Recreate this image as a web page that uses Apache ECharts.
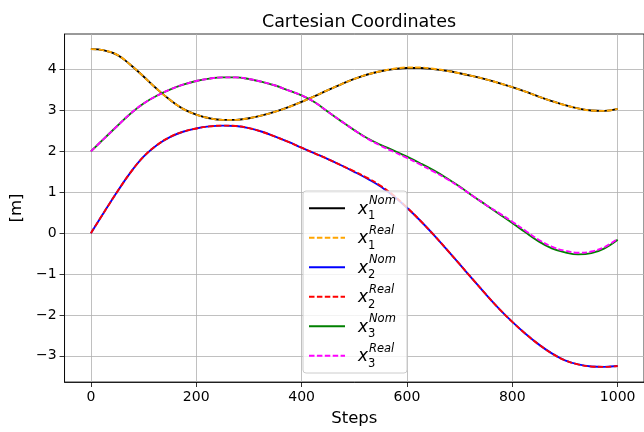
<!DOCTYPE html>
<html>
<head>
<meta charset="utf-8">
<title>Cartesian Coordinates</title>
<script src="https://cdn.jsdelivr.net/npm/echarts@6/dist/echarts.min.js"></script>
<style>
  html, body { margin: 0; padding: 0; background: #ffffff; }
  #chart { width: 644px; height: 432px; }
</style>
</head>
<body>
<div id="chart"></div>
<script>
// Simulation steps at which the trajectories are sampled
const steps = [0, 25, 50, 75, 100, 125, 150, 175, 200, 225, 250, 275, 300, 325, 350, 375, 400,
  425, 450, 475, 500, 525, 550, 575, 600, 625, 650, 675, 700, 725, 750, 775, 800,
  825, 850, 875, 900, 925, 950, 975, 1000];

// Nominal and real position components [m]
const x1Nom = [4.50, 4.47, 4.36, 4.12, 3.83, 3.53, 3.26, 3.04, 2.90, 2.81, 2.77, 2.77, 2.81,
  2.88, 2.97, 3.08, 3.21, 3.35, 3.50, 3.64, 3.77, 3.88, 3.96, 4.01, 4.04, 4.04, 4.01,
  3.97, 3.91, 3.84, 3.76, 3.67, 3.57, 3.46, 3.34, 3.23, 3.13, 3.05, 3.00, 2.99, 3.04];
const x1Real = [4.50, 4.47, 4.36, 4.12, 3.83, 3.53, 3.26, 3.04, 2.90, 2.81, 2.77, 2.77, 2.81,
  2.88, 2.97, 3.08, 3.21, 3.35, 3.50, 3.64, 3.77, 3.88, 3.96, 4.02, 4.05, 4.05, 4.02,
  3.97, 3.91, 3.84, 3.76, 3.67, 3.57, 3.46, 3.34, 3.23, 3.13, 3.05, 3.00, 2.99, 3.04];

const x2Nom = [0.00, 0.51, 1.01, 1.48, 1.87, 2.15, 2.35, 2.48, 2.56, 2.61, 2.63, 2.62, 2.57,
  2.48, 2.36, 2.23, 2.09, 1.95, 1.81, 1.66, 1.50, 1.33, 1.14, 0.90, 0.62, 0.31, -0.03,
  -0.39, -0.76, -1.13, -1.50, -1.85, -2.17, -2.46, -2.72, -2.94, -3.11, -3.21, -3.26, -3.27, -3.25];
const x2Real = [0.00, 0.51, 1.01, 1.48, 1.87, 2.15, 2.35, 2.48, 2.56, 2.61, 2.63, 2.62, 2.57,
  2.48, 2.36, 2.23, 2.09, 1.95, 1.81, 1.66, 1.51, 1.35, 1.16, 0.92, 0.63, 0.31, -0.03,
  -0.39, -0.76, -1.13, -1.50, -1.85, -2.17, -2.46, -2.72, -2.94, -3.11, -3.21, -3.26, -3.27, -3.25];

const x3Nom = [2.00, 2.31, 2.62, 2.92, 3.17, 3.36, 3.51, 3.63, 3.72, 3.78, 3.81, 3.81, 3.77,
  3.70, 3.61, 3.49, 3.37, 3.20, 2.97, 2.74, 2.52, 2.32, 2.16, 2.02, 1.87, 1.71, 1.54,
  1.35, 1.14, 0.91, 0.69, 0.47, 0.25, 0.02, -0.20, -0.37, -0.47, -0.52, -0.49, -0.37, -0.16];
const x3Real = [2.00, 2.31, 2.62, 2.92, 3.17, 3.36, 3.51, 3.63, 3.72, 3.78, 3.81, 3.81, 3.77,
  3.70, 3.61, 3.49, 3.37, 3.20, 2.97, 2.74, 2.52, 2.31, 2.14, 1.99, 1.84, 1.68, 1.51,
  1.33, 1.13, 0.91, 0.69, 0.49, 0.28, 0.06, -0.16, -0.33, -0.43, -0.48, -0.45, -0.34, -0.14];

// Tick positions and axis text
const xTicks = [0, 200, 400, 600, 800, 1000];
const yTicks = [-3, -2, -1, 0, 1, 2, 3, 4];
const titleText = 'Cartesian Coordinates';
const xName = 'Steps';
const yName = '[m]';

// Legend entries: superscript and subscript next to the symbol x
const legendSup = ['Nom', 'Real', 'Nom', 'Real', 'Nom', 'Real'];
const legendSub = ['1', '1', '2', '2', '3', '3'];

const FONT = '"DejaVu Sans", "Liberation Sans", sans-serif';

const seriesDefs = [
  { name: 'x1 Nom',  data: x1Nom,  color: '#000000', dashed: false },
  { name: 'x1 Real', data: x1Real, color: '#ffa500', dashed: true },
  { name: 'x2 Nom',  data: x2Nom,  color: '#0000ff', dashed: false },
  { name: 'x2 Real', data: x2Real, color: '#ff0000', dashed: true },
  { name: 'x3 Nom',  data: x3Nom,  color: '#008000', dashed: false },
  { name: 'x3 Real', data: x3Real, color: '#ff00ff', dashed: true }
];
const DASH = [5.5, 2.4];
const LINE_W = 1.9;

const series = seriesDefs.map(d => ({
  type: 'line',
  name: d.name,
  data: steps.map((s, i) => [s, d.data[i]]),
  showSymbol: false,
  smooth: 0.4,
  lineStyle: { color: d.color, width: LINE_W, type: d.dashed ? DASH : 'solid', cap: 'butt' },
  itemStyle: { color: d.color },
  emphasis: { disabled: true },
  z: 3
}));

// Legend box drawn in the lower-middle of the plot area
const LX = 303, LY = 191, LW = 104, LH = 182;
const ROW0 = 208.3, ROWGAP = 29.5;
const legendEls = [{
  type: 'rect',
  shape: { x: LX, y: LY, width: LW, height: LH, r: 3 },
  style: { fill: 'rgba(255,255,255,0.8)', stroke: '#cccccc', lineWidth: 1 },
  z: 100
}];
seriesDefs.forEach((d, i) => {
  const yc = ROW0 + ROWGAP * i;
  legendEls.push({
    type: 'line',
    shape: { x1: LX + 6, y1: yc, x2: LX + 42, y2: yc },
    style: { stroke: d.color, lineWidth: LINE_W, lineDash: d.dashed ? DASH : null },
    z: 101
  });
  legendEls.push({
    type: 'text',
    style: { text: 'x', x: LX + 55, y: yc + 1, font: 'italic 17px ' + FONT, fill: '#000', align: 'left', verticalAlign: 'middle' },
    z: 101
  });
  legendEls.push({
    type: 'text',
    style: { text: legendSup[i], x: LX + 66, y: yc - 7, font: 'italic 11.5px ' + FONT, fill: '#000', align: 'left', verticalAlign: 'middle' },
    z: 101
  });
  legendEls.push({
    type: 'text',
    style: { text: legendSub[i], x: LX + 65, y: yc + 8, font: '11.5px ' + FONT, fill: '#000', align: 'left', verticalAlign: 'middle' },
    z: 101
  });
});

const chart = echarts.init(document.getElementById('chart'), null, { renderer: 'canvas' });
chart.setOption({
  animation: false,
  backgroundColor: '#ffffff',
  title: {
    text: titleText,
    left: 354, top: 8, textAlign: 'center',
    textStyle: { fontFamily: FONT, fontSize: 17.5, fontWeight: 'normal', color: '#000' }
  },
  grid: {
    left: 62, top: 34, right: -2, bottom: 50,
    show: true, borderColor: '#000000', borderWidth: 0.8, backgroundColor: 'transparent'
  },
  xAxis: {
    type: 'value',
    min: -50, max: 1050,
    name: xName, nameLocation: 'middle', nameGap: 28,
    nameTextStyle: { fontFamily: FONT, fontSize: 16.5, color: '#000' },
    axisLine: { show: true, onZero: false, lineStyle: { color: '#000', width: 0.8 } },
    axisTick: { show: true, length: 5, customValues: xTicks, lineStyle: { color: '#000', width: 0.8 } },
    axisLabel: {
      customValues: xTicks, margin: 8, fontFamily: FONT, fontSize: 14, color: '#000',
      formatter: v => String(v)
    },
    splitLine: { show: true, lineStyle: { color: '#b0b0b0', width: 0.8 } }
  },
  yAxis: {
    type: 'value',
    min: -3.64, max: 4.87,
    name: yName, nameLocation: 'middle', nameGap: 34, nameRotate: 90,
    nameTextStyle: { fontFamily: FONT, fontSize: 16.5, color: '#000' },
    axisLine: { show: true, onZero: false, lineStyle: { color: '#000', width: 0.8 } },
    axisTick: { show: true, length: 5, customValues: yTicks, lineStyle: { color: '#000', width: 0.8 } },
    axisLabel: {
      customValues: yTicks, margin: 8, fontFamily: FONT, fontSize: 14, color: '#000',
      formatter: v => (v < 0 ? '\u2212' + Math.abs(v) : String(v))
    },
    splitLine: { show: true, lineStyle: { color: '#b0b0b0', width: 0.8 } }
  },
  series: series,
  graphic: { elements: legendEls }
});
</script>
</body>
</html>
